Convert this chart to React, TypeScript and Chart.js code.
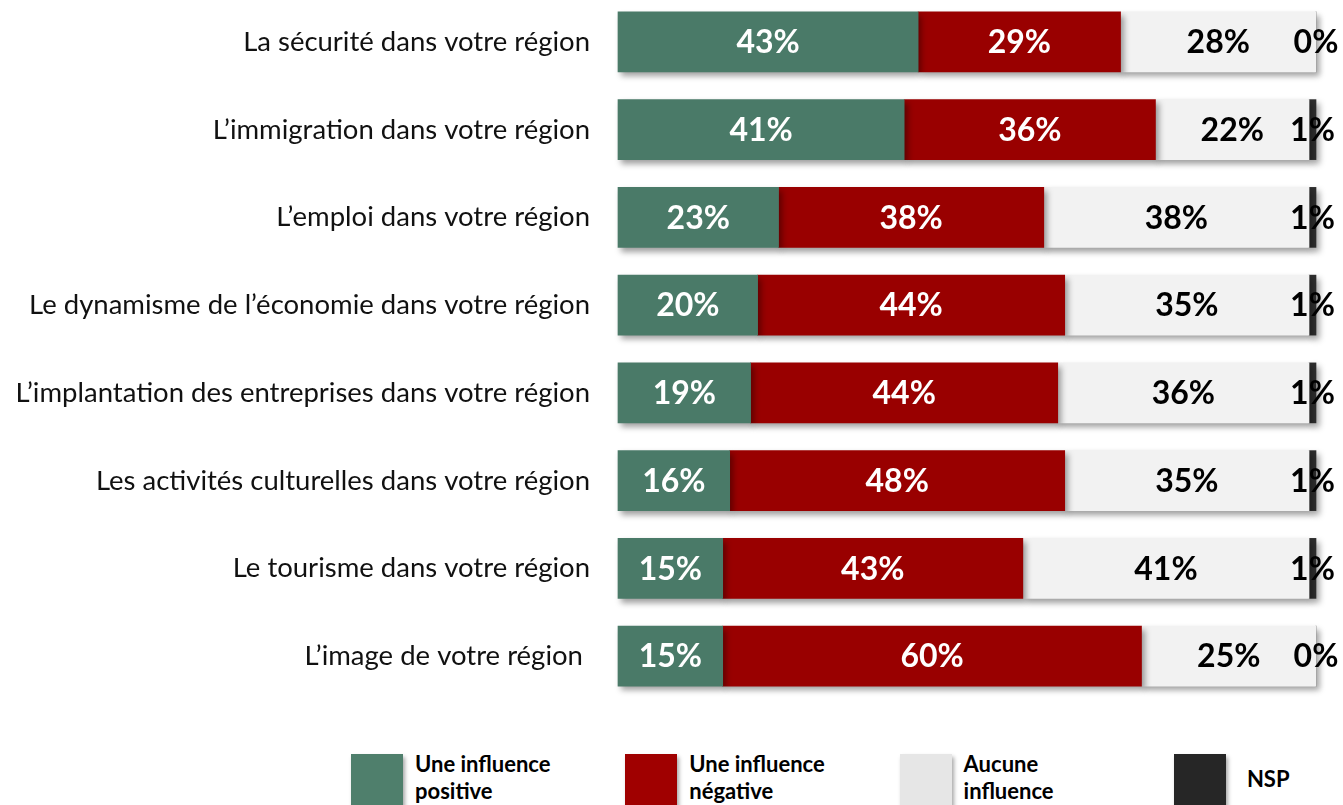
import React, { useEffect, useRef } from "react";
import { Chart, registerables } from "chart.js";
Chart.register(...registerables);

const categories = [
  "La sécurité dans votre région",
  "L’immigration dans votre région",
  "L’emploi dans votre région",
  "Le dynamisme de l’économie dans votre région",
  "L’implantation des entreprises dans votre région",
  "Les activités culturelles dans votre région",
  "Le tourisme dans votre région",
  "L’image de votre région ",
];
const positive = [43, 41, 23, 20, 19, 16, 15, 15];
const negative = [29, 36, 38, 44, 44, 48, 43, 60];
const noInfluence = [28, 22, 38, 35, 36, 35, 41, 25];
const nsp = [0, 1, 1, 1, 1, 1, 1, 0];
const seriesNames = [
  ["Une influence", "positive"],
  ["Une influence", "négative"],
  ["Aucune", "influence"],
  ["NSP"],
];
const barColors = ["#4A7A68", "#990000", "#F2F2F2", "#2E2E2E"];
const legendColors = ["#4F7F6C", "#A00000", "#E6E6E6", "#262626"];
const labelColors = ["#FFFFFF", "#FFFFFF", "#000000", "#000000"];

const FONT = "Lato, 'Open Sans', sans-serif";

const barPlugin = {
  id: "barDecor",
  beforeDatasetsDraw(chart: any) {
    const ctx = chart.ctx;
    ctx.save();
    ctx.shadowColor = "rgba(0,0,0,0.38)";
    ctx.shadowBlur = 6;
    ctx.shadowOffsetX = 3;
    ctx.shadowOffsetY = 4;
  },
  afterDatasetsDraw(chart: any) {
    const ctx = chart.ctx;
    ctx.restore();
    ctx.save();
    ctx.font = `bold 32px ${FONT}`;
    ctx.textAlign = "center";
    ctx.textBaseline = "middle";
    chart.data.datasets.forEach((ds: any, di: number) => {
      const meta = chart.getDatasetMeta(di);
      meta.data.forEach((el: any, i: number) => {
        const p = el.getProps(["x", "y", "base"], true);
        const cx = (p.x + p.base) / 2;
        ctx.fillStyle = labelColors[di];
        ctx.fillText(`${ds.data[i]}%`, cx, p.y + 1);
      });
    });
    ctx.restore();
  },
};

export default function App() {
  const ref = useRef<HTMLCanvasElement | null>(null);
  useEffect(() => {
    if (!ref.current) return;
    const series = [positive, negative, noInfluence, nsp];
    const chart = new Chart(ref.current, {
      type: "bar",
      data: {
        labels: categories,
        datasets: series.map((d, i) => ({
          label: seriesNames[i].join(" "),
          data: d,
          backgroundColor: barColors[i],
          borderWidth: 0,
          barThickness: 60,
          clip: false as any,
        })),
      },
      options: {
        indexAxis: "y",
        responsive: true,
        maintainAspectRatio: false,
        animation: false,
        layout: { padding: { left: 0, right: 27, top: 0, bottom: 0 } },
        plugins: { legend: { display: false }, tooltip: { enabled: false } },
        scales: {
          x: { stacked: true, min: 0, max: 100, display: false },
          y: {
            stacked: true,
            grid: { display: false, drawTicks: false },
            border: { display: false },
            ticks: {
              color: "#111111",
              padding: 28,
              font: { family: FONT, size: 27.5 },
            },
            afterFit: (scale: any) => {
              scale.width = 618;
              scale.paddingTop = 0;
              scale.paddingBottom = 0;
            },
          },
        },
      },
      plugins: [barPlugin],
    });
    return () => chart.destroy();
  }, []);

  return (
    <div
      style={{
        position: "absolute",
        left: 0,
        top: 0,
        width: 1343,
        height: 805,
        overflow: "hidden",
        background: "#fff",
        fontFamily: FONT,
      }}
    >
      <div style={{ position: "absolute", left: 0, top: -2, width: 1343, height: 702 }}>
        <canvas ref={ref} />
      </div>
      {seriesNames.map((name, i) => {
        const left = 351 + i * 274.3;
        const single = name.length === 1;
        return (
          <React.Fragment key={i}>
            <div
              style={{
                position: "absolute",
                left,
                top: 754,
                width: 52,
                height: 52,
                background: legendColors[i],
                boxShadow: "2px 3px 4px rgba(0,0,0,0.35)",
              }}
            />
            <div
              style={{
                position: "absolute",
                left: left + (single ? 73 : 64),
                top: single ? 765 : 750,
                fontWeight: 700,
                fontSize: 22,
                lineHeight: "27px",
                color: "#000",
                whiteSpace: "nowrap",
              }}
            >
              {name.map((line, j) => (
                <div key={j}>{line}</div>
              ))}
            </div>
          </React.Fragment>
        );
      })}
    </div>
  );
}
